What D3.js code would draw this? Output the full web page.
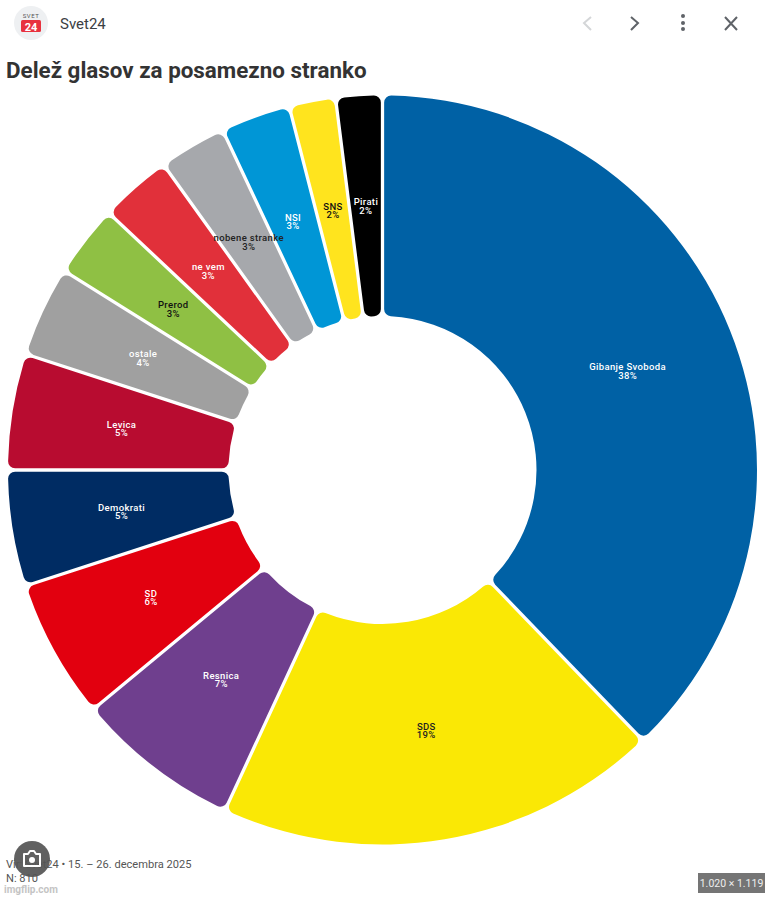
<!DOCTYPE html>
<html>
<head>
<meta charset="utf-8">
<script src="https://cdn.jsdelivr.net/npm/d3@7"></script>
<style>
html, body { margin: 0; padding: 0; background: #fff; }
svg { display: block; }
text { font-family: Roboto, "Noto Sans", sans-serif; }
</style>
</head>
<body>
<svg id="chart" width="765" height="898"></svg>
<script>
var parties = ['Gibanje Svoboda', 'SDS', 'Resnica', 'SD', 'Demokrati', 'Levica', 'ostale', 'Prerod', 'ne vem', 'nobene stranke', 'NSI', 'SNS', 'Pirati']
var shares = [37.8, 19.1, 7.1, 6.0, 5.0, 5.0, 3.9, 3.1, 3.1, 2.9, 3.0, 2.0, 2.0]
var shareLabels = ['38%', '19%', '7%', '6%', '5%', '5%', '4%', '3%', '3%', '3%', '3%', '2%', '2%']
var colors = ['#0061a5', '#fae805', '#6f3f8e', '#e2000f', '#002c63', '#b80c30', '#a0a0a0', '#8fc044', '#e1303a', '#a6a8ac', '#0096d6', '#ffe41e', '#000000']
var labelColors = ['#fff', '#222', '#fff', '#fff', '#fff', '#fff', '#fff', '#111', '#fff', '#222', '#fff', '#111', '#fff']

var svg = d3.select('#chart')
var cx = 382.5, cy = 470
var outer = 374.5, inner = 154

//MARK: header
var logo = svg.append('g')
logo.append('circle').attr('cx', 31).attr('cy', 23).attr('r', 17).attr('fill', '#eef0f2')
logo.append('text').attr('x', 31).attr('y', 18).attr('text-anchor', 'middle')
	.style('font-size', '6px').style('letter-spacing', '0.5px').attr('fill', '#555').text('SVET')
logo.append('rect').attr('x', 21).attr('y', 20).attr('width', 20).attr('height', 12).attr('rx', 1.5).attr('fill', '#e8323f')
logo.append('text').attr('x', 31).attr('y', 30.5).attr('text-anchor', 'middle')
	.style('font-size', '11px').style('font-weight', 700).attr('fill', '#fff').text('24')

svg.append('text').attr('x', 60).attr('y', 29)
	.style('font-size', '15px').attr('fill', '#3c4043').text('Svet24')
svg.append('text').attr('x', 6).attr('y', 78)
	.style('font-size', '22.4px').style('font-weight', 700).attr('fill', '#333').text('Delež glasov za posamezno stranko')

var icons = svg.append('g').attr('fill', 'none').attr('stroke-width', 2)
icons.append('path').attr('d', 'M591,17 L584,23 L591,30').attr('stroke', '#d4d6d8')
icons.append('path').attr('d', 'M631,17 L638,23 L631,30').attr('stroke', '#5f6368')
icons.append('path').attr('d', 'M725,17 L737,30 M737,17 L725,30').attr('stroke', '#5f6368')
svg.selectAll('.dot').data([16, 23, 29]).enter().append('circle')
	.attr('class', 'dot').attr('cx', 683).attr('cy', d => d).attr('r', 2).attr('fill', '#5f6368')

//MARK: donut
var pie = d3.pie().sort(null).value(d => d)
var arc = d3.arc().innerRadius(inner).outerRadius(outer).cornerRadius(7)
	.padAngle(0.0088).padRadius(outer)
var labelArc = d3.arc().innerRadius(inner).outerRadius(outer)

var donut = svg.append('g').attr('transform', 'translate(' + cx + ',' + cy + ')')
var slices = pie(shares)

donut.selectAll('.slice').data(slices).enter().append('path')
	.attr('class', 'slice')
	.attr('d', arc)
	.attr('fill', (d, i) => colors[i])

var labels = donut.selectAll('.label').data(slices).enter().append('text')
	.attr('class', 'label')
	.attr('text-anchor', 'middle')
	.attr('transform', d => 'translate(' + labelArc.centroid(d) + ')')
	.attr('fill', (d, i) => labelColors[i])
	.style('font-size', '9.5px')
	.style('font-weight', 500)
	.style('letter-spacing', '0.35px')

labels.append('tspan').attr('x', 0).attr('y', -0.8).text((d, i) => parties[i])
labels.append('tspan').attr('x', 0).attr('y', 7.8).text((d, i) => shareLabels[i])

//MARK: footer
svg.append('text').attr('x', 6).attr('y', 868).style('font-size', '11.1px').attr('fill', '#555')
	.text('Vir: Svet24 • 15. – 26. decembra 2025')
svg.append('text').attr('x', 6).attr('y', 882).style('font-size', '11.1px').attr('fill', '#555').text('N: 810')
svg.append('text').attr('x', 4).attr('y', 893).style('font-size', '10px').style('font-weight', 700).attr('fill', '#c4c4c4').text('imgflip.com')

var lens = svg.append('g').attr('transform', 'translate(32,859)')
lens.append('circle').attr('r', 18).attr('fill', '#555').attr('opacity', 0.93)
lens.append('path').attr('d', 'M-8,-5 H-4 L-2,-8 H2 L4,-5 H8 V7 H-8 Z')
	.attr('fill', 'none').attr('stroke', '#fff').attr('stroke-width', 2).attr('stroke-linejoin', 'round')
lens.append('circle').attr('cy', 1).attr('r', 3).attr('fill', '#fff')

svg.append('rect').attr('x', 698).attr('y', 873).attr('width', 67).attr('height', 20).attr('fill', '#757575')
svg.append('text').attr('x', 731.5).attr('y', 887).attr('text-anchor', 'middle')
	.style('font-size', '10.5px').attr('fill', '#eee').text('1.020 × 1.119')
</script>
</body>
</html>
